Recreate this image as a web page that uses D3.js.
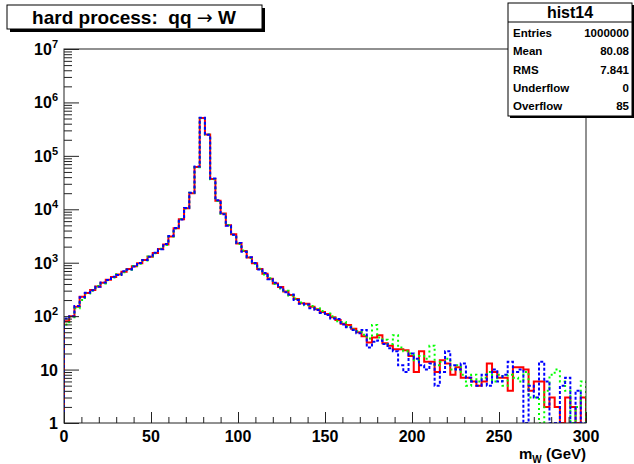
<!DOCTYPE html>
<html>
<head>
<meta charset="utf-8">
<script src="https://cdn.jsdelivr.net/npm/d3@7"></script>
<style>
  body { margin: 0; background: #fff; }
  svg { display: block; font-family: "Liberation Sans", Arial, Helvetica, sans-serif; font-weight: bold; }
</style>
</head>
<body>
<div id="chart"></div>
<script>
// histogram binning: 100 bins of 3 GeV between 0 and 300
const binLow = d3.range(0, 300, 3);
const binWidth = 3;

// counts per bin
const redCounts = [80, 100, 150, 230, 270, 310, 360, 420, 480, 540,
  600, 680, 760, 860, 980, 1120, 1300, 1520, 1800, 2200,
  3100, 4400, 6500, 10500, 20000, 62000, 510000, 250000, 37000, 14500,
  8300, 5000, 3400, 2300, 1650, 1250, 980, 760, 620, 500,
  410, 350, 290, 250, 210, 175, 170, 150, 135, 120,
  110, 95, 85, 72, 68, 58, 50, 42, 32, 40,
  44, 31, 28, 24, 24, 23, 18, 9, 22, 14,
  14, 9, 15, 13, 8, 11, 7, 7, 6, 5,
  6, 13, 9, 7, 7, 4, 11, 11, 10, 4,
  6, 6, 2, 3, 2, 0, 3, 2, 0, 3];

const greenCounts = [70, 95, 140, 200, 265, 300, 365, 410, 470, 530,
  610, 660, 740, 870, 960, 1100, 1310, 1500, 1820, 2150,
  3100, 4350, 6600, 10400, 20500, 61000, 505000, 252000, 36500, 14300,
  8200, 5100, 3300, 2250, 1700, 1230, 960, 770, 600, 510,
  400, 330, 300, 240, 215, 180, 160, 155, 140, 125,
  112, 100, 80, 78, 64, 56, 52, 45, 38, 68,
  40, 36, 30, 44, 26, 22, 20, 15, 18, 16,
  28, 12, 14, 16, 10, 12, 8, 5, 8, 6,
  7, 9, 6, 8, 5, 8, 7, 6, 9, 3,
  3, 1, 4, 8, 10, 6, 4, 0, 2, 6];

const blueCounts = [90, 100, 155, 225, 275, 305, 355, 425, 475, 545,
  590, 690, 750, 850, 990, 1130, 1290, 1540, 1780, 2250,
  3150, 4450, 6450, 10600, 20300, 63000, 515000, 248000, 37500, 14700,
  8100, 4900, 3350, 2350, 1600, 1270, 990, 750, 640, 490,
  420, 345, 280, 255, 200, 170, 165, 140, 130, 115,
  105, 90, 88, 70, 62, 55, 48, 55, 26, 33,
  35, 30, 25, 22, 12, 9, 20, 16, 12, 10,
  13, 5, 9, 22, 12, 10, 13, 7, 6, 5,
  8, 5, 10, 6, 8, 14, 9, 10, 0, 5,
  3, 14, 6, 0, 0, 5, 7, 0, 4, 0];

const xMajorTicks = [0, 50, 100, 150, 200, 250, 300];
const decades = [1, 10, 100, 1e3, 1e4, 1e5, 1e6, 1e7];

const statNames = ['Entries', 'Mean', 'RMS', 'Underflow', 'Overflow'];
const statValues = ['1000000', '80.08', '7.841', '0', '85'];

const width = 634, height = 464;
const frame = {left: 64, right: 586, top: 49, bottom: 423};

const svg = d3.select('#chart').append('svg')
  .attr('width', width).attr('height', height);

const x = d3.scaleLinear().domain([0, 300]).range([frame.left, frame.right]);
const y = d3.scaleLog().domain([1, 1e7]).range([frame.bottom, frame.top]);

svg.append('defs').append('clipPath').attr('id', 'frameclip')
  .append('rect')
  .attr('x', frame.left).attr('y', frame.top)
  .attr('width', frame.right - frame.left).attr('height', frame.bottom - frame.top);

// step outline, starting and ending on the bottom of the frame like ROOT does
function outline(counts) {
  let pts = [[0, 0]];
  counts.forEach((c, i) => {
    pts.push([binLow[i], c]);
    pts.push([binLow[i] + binWidth, c]);
  });
  pts.push([300, 0]);
  return d3.line()
    .x(d => x(d[0]))
    .y(d => d[1] < 1 ? frame.bottom : y(d[1]))(pts);
}

let hists = svg.append('g').attr('clip-path', 'url(#frameclip)');

hists.append('path')
  .attr('d', outline(redCounts))
  .attr('fill', 'none').attr('stroke', '#ff0000').attr('stroke-width', 2);

hists.append('path')
  .attr('d', outline(greenCounts))
  .attr('fill', 'none').attr('stroke', '#00ff00').attr('stroke-width', 2)
  .attr('stroke-dasharray', '2,3');

hists.append('path')
  .attr('d', outline(blueCounts))
  .attr('fill', 'none').attr('stroke', '#0000ff').attr('stroke-width', 2)
  .attr('stroke-dasharray', '3,2');

// frame
svg.append('rect')
  .attr('x', frame.left).attr('y', frame.top)
  .attr('width', frame.right - frame.left).attr('height', frame.bottom - frame.top)
  .attr('fill', 'none').attr('stroke', '#222').attr('stroke-width', 1);

// x axis ticks (pointing into the frame)
let xMinor = d3.range(0, 301, 10).filter(v => xMajorTicks.indexOf(v) < 0);
svg.append('g')
  .attr('transform', 'translate(0,' + frame.bottom + ')')
  .call(d3.axisTop(x).tickValues(xMinor).tickSize(6).tickFormat(''))
  .call(g => g.select('.domain').remove());
svg.append('g')
  .attr('transform', 'translate(0,' + frame.bottom + ')')
  .call(d3.axisTop(x).tickValues(xMajorTicks).tickSize(11).tickFormat(''))
  .call(g => g.select('.domain').remove());
svg.selectAll('.tick line').attr('stroke', '#222');

svg.append('g').selectAll('text')
  .data(xMajorTicks)
  .enter()
  .append('text')
  .attr('x', d => x(d))
  .attr('y', frame.bottom + 19)
  .attr('text-anchor', 'middle')
  .attr('font-size', 16)
  .text(d => d);

// y axis (log) ticks
let yMinor = y.ticks().filter(v => decades.indexOf(v) < 0);
svg.append('g')
  .attr('transform', 'translate(' + frame.left + ',0)')
  .call(d3.axisRight(y).tickValues(yMinor).tickSize(8).tickFormat(''))
  .call(g => g.select('.domain').remove());
svg.append('g')
  .attr('transform', 'translate(' + frame.left + ',0)')
  .call(d3.axisRight(y).tickValues(decades).tickSize(15).tickFormat(''))
  .call(g => g.select('.domain').remove());
svg.selectAll('.tick line').attr('stroke', '#222');

let yLabels = svg.append('g').selectAll('text')
  .data(decades)
  .enter()
  .append('text')
  .attr('x', frame.left - 6)
  .attr('y', d => y(d) + 6)
  .attr('text-anchor', 'end')
  .attr('font-size', 16);
yLabels.each(function(d) {
  let t = d3.select(this);
  let p = Math.round(Math.log10(d));
  if (p === 0) {
    t.text('1');
  } else if (p === 1) {
    t.text('10');
  } else {
    t.append('tspan').text('10');
    t.append('tspan').attr('font-size', 11).attr('dy', -7).text(p);
  }
});

// x axis title
let xTitle = svg.append('text')
  .attr('x', frame.right)
  .attr('y', 459)
  .attr('text-anchor', 'end')
  .attr('font-size', 15);
xTitle.append('tspan').text('m');
xTitle.append('tspan').attr('font-size', 10).attr('dy', 4).text('W');
xTitle.append('tspan').attr('dy', -4).text(' (GeV)');

// title pave
svg.append('rect').attr('x', 10).attr('y', 8).attr('width', 255).attr('height', 24).attr('fill', '#000');
svg.append('rect').attr('x', 7).attr('y', 5).attr('width', 255).attr('height', 24)
  .attr('fill', '#fff').attr('stroke', '#000').attr('stroke-width', 1);
let title = svg.append('text')
  .attr('x', 134).attr('y', 24)
  .attr('text-anchor', 'middle')
  .attr('font-size', 19)
  .attr('xml:space', 'preserve');
title.append('tspan').text('hard process:  qq ');
title.append('tspan').attr('font-family', '"DejaVu Sans", sans-serif').attr('font-weight', 'normal').text('\u2192');
title.append('tspan').text(' W');

// stats box
const statBox = {x: 508, y: 3, w: 124, h: 113};
svg.append('rect').attr('x', statBox.x + 2).attr('y', statBox.y + 2)
  .attr('width', statBox.w).attr('height', statBox.h).attr('fill', '#000');
svg.append('rect').attr('x', statBox.x).attr('y', statBox.y)
  .attr('width', statBox.w).attr('height', statBox.h)
  .attr('fill', '#fff').attr('stroke', '#000').attr('stroke-width', 1);
svg.append('line')
  .attr('x1', statBox.x).attr('x2', statBox.x + statBox.w)
  .attr('y1', 22).attr('y2', 22)
  .attr('stroke', '#000');
svg.append('text')
  .attr('x', statBox.x + statBox.w / 2).attr('y', 18)
  .attr('text-anchor', 'middle').attr('font-size', 16)
  .text('hist14');

let rows = svg.append('g');
rows.selectAll('text.name')
  .data(statNames)
  .enter()
  .append('text')
  .attr('class', 'name')
  .attr('x', statBox.x + 5)
  .attr('y', (d, i) => 37 + i * 18.3)
  .attr('font-size', 11.5)
  .text(d => d);
rows.selectAll('text.value')
  .data(statValues)
  .enter()
  .append('text')
  .attr('class', 'value')
  .attr('x', statBox.x + statBox.w - 3)
  .attr('y', (d, i) => 37 + i * 18.3)
  .attr('text-anchor', 'end')
  .attr('font-size', 11.5)
  .text(d => d);
</script>
</body>
</html>
